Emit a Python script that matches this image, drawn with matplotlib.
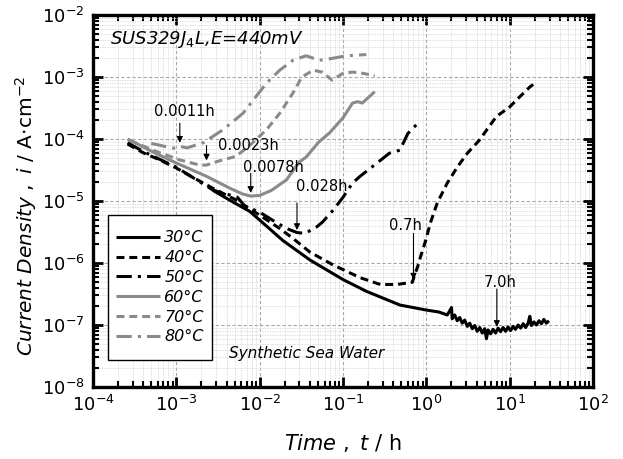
import numpy as np
import matplotlib
matplotlib.use('Agg')
import matplotlib.pyplot as plt
from matplotlib.ticker import LogLocator, NullFormatter
from matplotlib.patches import Rectangle

# ***************************
# Current transients (t in h, i in A/cm2)
# ***************************
t_30 = [2.75e-3, 5.0e-3, 7.6e-3, 1.9e-2, 4.0e-2, 0.1, 0.19, 0.48, 1.0, 1.41, 1.78,
        2.0, 2.04, 2.19, 2.34, 2.51, 2.69, 2.88, 3.09, 3.31, 3.55, 3.80, 4.07, 4.37, 4.68, 5.01,
        5.25, 5.50, 5.89, 6.31, 6.76, 7.24, 7.76, 8.32, 8.91, 9.55, 10.2, 11.0, 11.7, 12.6, 13.5,
        14.5, 15.5, 16.6, 17.4, 18.2, 19.5, 20.9, 22.4, 24.0, 25.7, 27.5, 29.5]
i_30 = [1.48e-5, 9.3e-6, 6.8e-6, 2.3e-6, 1.12e-6, 5.4e-7, 3.5e-7, 2.1e-7, 1.74e-7, 1.62e-7, 1.45e-7,
        1.91e-7, 1.26e-7, 1.45e-7, 1.17e-7, 1.32e-7, 1.07e-7, 1.2e-7, 9.5e-8, 1.07e-7, 8.7e-8, 9.8e-8, 7.9e-8, 9.1e-8, 7.4e-8, 8.7e-8,
        6.0e-8, 8.3e-8, 7.2e-8, 8.5e-8, 7.4e-8, 8.9e-8, 7.8e-8, 9.1e-8, 7.9e-8, 9.3e-8, 8.1e-8, 9.5e-8, 8.5e-8, 1.0e-7, 8.9e-8,
        1.05e-7, 9.1e-8, 1.07e-7, 1.38e-7, 9.8e-8, 1.12e-7, 1.0e-7, 1.17e-7, 1.05e-7, 1.23e-7, 1.07e-7, 1.17e-7]

t_40 = [2.6e-4, 4.0e-4, 6.3e-4, 1.0e-3, 1.58e-3, 2.8e-3, 5.0e-3, 1.0e-2, 1.74e-2, 2.5e-2, 4.0e-2, 7.6e-2,
        0.16, 0.28, 0.44, 0.68, 0.71, 0.79, 0.85, 0.98, 1.12, 1.35, 1.78, 2.34, 3.1, 4.3,
        6.9, 10.0, 13.2, 17.4, 20.9]
i_40 = [8.3e-5, 6.0e-5, 4.6e-5, 3.4e-5, 2.4e-5, 1.58e-5, 1.07e-5, 5.9e-6, 3.6e-6, 2.5e-6, 1.5e-6, 9.3e-7,
        5.8e-7, 4.5e-7, 4.5e-7, 4.9e-7, 6.0e-7, 8.9e-7, 1.26e-6, 2.3e-6, 4.5e-6, 9.3e-6, 1.95e-5, 3.5e-5, 5.9e-5, 9.5e-5,
        2.3e-4, 3.3e-4, 4.8e-4, 6.9e-4, 8.3e-4]

t_50 = [2.6e-4, 4.0e-4, 1.0e-3, 2.75e-3, 5.4e-3, 6.6e-3, 1.0e-2, 1.58e-2, 2.1e-2, 2.8e-2, 3.5e-2, 4.8e-2,
        5.6e-2, 7.6e-2, 0.1, 0.13, 0.16, 0.22, 0.36, 0.48, 0.6, 0.79]
i_50 = [8.7e-5, 6.3e-5, 3.5e-5, 1.5e-5, 1.15e-5, 8.3e-6, 6.6e-6, 4.5e-6, 3.6e-6, 3.1e-6, 3.0e-6, 3.8e-6,
        4.5e-6, 7.1e-6, 1.15e-5, 1.95e-5, 2.5e-5, 3.5e-5, 5.9e-5, 6.6e-5, 1.23e-4, 1.8e-4]

t_60 = [2.6e-4, 5.6e-4, 1.0e-3, 2.3e-3, 4.5e-3, 6.3e-3, 7.8e-3, 1.0e-2, 1.38e-2, 2.1e-2, 2.95e-2, 3.6e-2,
        5.1e-2, 6.9e-2, 0.1, 0.13, 0.15, 0.17, 0.24]
i_60 = [1.0e-4, 5.9e-5, 4.1e-5, 2.5e-5, 1.58e-5, 1.29e-5, 1.2e-5, 1.23e-5, 1.48e-5, 2.2e-5, 4.2e-5, 5.1e-5,
        8.9e-5, 1.26e-4, 2.2e-4, 3.8e-4, 4.0e-4, 3.8e-4, 5.8e-4]

t_70 = [2.75e-4, 5.9e-4, 1.1e-3, 1.9e-3, 2.3e-3, 3.2e-3, 4.8e-3, 5.8e-3, 7.9e-3, 1.2e-2, 1.74e-2, 2.5e-2,
        3.2e-2, 4.4e-2, 5.6e-2, 7.4e-2, 0.1, 0.13, 0.17, 0.24]
i_70 = [9.5e-5, 6.2e-5, 4.6e-5, 3.8e-5, 3.8e-5, 4.4e-5, 5.1e-5, 5.9e-5, 8.3e-5, 1.4e-4, 2.6e-4, 5.5e-4,
        1.0e-3, 1.29e-3, 1.2e-3, 8.9e-4, 1.15e-3, 1.2e-3, 1.15e-3, 1.05e-3]

t_80 = [5.0e-4, 9.1e-4, 1.1e-3, 1.35e-3, 2.1e-3, 3.6e-3, 6.3e-3, 1.2e-2, 1.74e-2, 2.5e-2, 3.6e-2, 5.2e-2,
        7.4e-2, 0.11, 0.19]
i_80 = [8.5e-5, 7.1e-5, 7.6e-5, 7.2e-5, 8.7e-5, 1.4e-4, 2.6e-4, 7.9e-4, 1.29e-3, 1.86e-3, 2.2e-3, 1.86e-3,
        2.0e-3, 2.2e-3, 2.3e-3]

labels = ['30\u00b0C', '40\u00b0C', '50\u00b0C', '60\u00b0C', '70\u00b0C', '80\u00b0C']

# pit initiation times and arrow ends (tail, tip)
mark_t = [0.0011, 0.0023, 0.0078, 0.028, 0.7, 7.0]
mark_tail = [1.8e-4, 7.8e-5, 2.8e-5, 9.3e-6, 3.0e-6, 3.8e-7]
mark_tip = [8.7e-5, 4.5e-5, 1.35e-5, 3.4e-6, 5.4e-7, 9.3e-8]
# label anchors (t, i)
label_pos = [(1.26e-3, 2.75e-4), (7.4e-3, 7.9e-5), (1.45e-2, 3.5e-5),
             (5.6e-2, 1.7e-5), (0.56, 4.1e-6), (7.7, 4.8e-7)]

# ***************************
# Plot
# ***************************
black = 'black'
gray = '#8a8a8a'
styles = [
    dict(color=black, lw=2.2, ls='-'),
    dict(color=black, lw=2.2, ls=(0, (2.6, 1.6))),
    dict(color=black, lw=2.2, ls=(0, (5, 2, 1, 2))),
    dict(color=gray, lw=2.2, ls='-'),
    dict(color=gray, lw=2.2, ls=(0, (2.6, 1.6))),
    dict(color=gray, lw=2.2, ls=(0, (5, 2, 1, 2))),
]
series = [(t_30, i_30), (t_40, i_40), (t_50, i_50), (t_60, i_60), (t_70, i_70), (t_80, i_80)]

fig = plt.figure(figsize=(6.23, 4.59), dpi=100)
ax = fig.add_axes([0.1493, 0.1569, 0.8027, 0.8104])

for (t, i), lab, st in zip(series, labels, styles):
    ax.plot(t, i, label=lab, solid_capstyle='butt', dash_capstyle='butt', **st)

ax.set_xscale('log')
ax.set_yscale('log')
ax.set_xlim(1e-4, 1e2)
ax.set_ylim(1e-8, 1e-2)

# decade ticks only inside the axis range
ax.set_xticks(10.0 ** np.arange(-4, 3))
ax.set_yticks(10.0 ** np.arange(-8, -1))
for axis in (ax.xaxis, ax.yaxis):
    axis.set_minor_locator(LogLocator(base=10, subs=np.arange(2, 10), numticks=20))
    axis.set_minor_formatter(NullFormatter())

ax.grid(which='major', color='#a8a8a8', ls=(0, (3, 2)), lw=0.8)
ax.grid(which='minor', color='#d4d4d4', ls=(0, (1, 1)), lw=0.6)
ax.set_axisbelow(True)

ax.tick_params(which='both', direction='in', top=True, right=True)
ax.tick_params(which='major', length=7, width=2, labelsize=13, pad=6)
ax.tick_params(which='minor', length=4, width=1.5)
for sp in ax.spines.values():
    sp.set_linewidth(2.4)

ax.set_xlabel(r'$\mathit{Time\ ,\ t}$ / h', fontsize=15, labelpad=12)
ax.set_ylabel(r'$\mathit{Current\ Density\ ,\ i}$ / A$\cdot$cm$^{-2}$', fontsize=14.5)
ax.yaxis.set_label_coords(-0.108, 0.46)

# arrows + labels for pitting initiation
for t, tail, tip, (tx, ty) in zip(mark_t, mark_tail, mark_tip, label_pos):
    ax.annotate('', xy=(t, tip), xytext=(t, tail),
                arrowprops=dict(arrowstyle='-|>', color='black', lw=0.8,
                                mutation_scale=9, shrinkA=0, shrinkB=0))
    ax.text(tx, ty, f'{t}h', fontsize=10.5, ha='center', va='center')

ax.text(0.033, 0.935, r'SUS329J$_4$L,E=440mV', transform=ax.transAxes,
        fontsize=13, style='italic', va='center', ha='left')
ax.text(0.427, 0.09, 'Synthetic Sea Water', transform=ax.transAxes,
        fontsize=11, style='italic', ha='center', va='center')

# legend box
box = (0.03, 0.0726, 0.208, 0.39)
ax.add_patch(Rectangle(box[:2], box[2], box[3], transform=ax.transAxes,
                       facecolor='white', edgecolor='black', lw=1.0, zorder=4))
leg = ax.legend(loc='center', bbox_to_anchor=box, borderaxespad=0, frameon=False,
                handlelength=2.7, labelspacing=0.3, handletextpad=0.3,
                prop=dict(size=11.5, style='italic'))
leg.set_zorder(5)

plt.savefig('out.png', dpi=100)
